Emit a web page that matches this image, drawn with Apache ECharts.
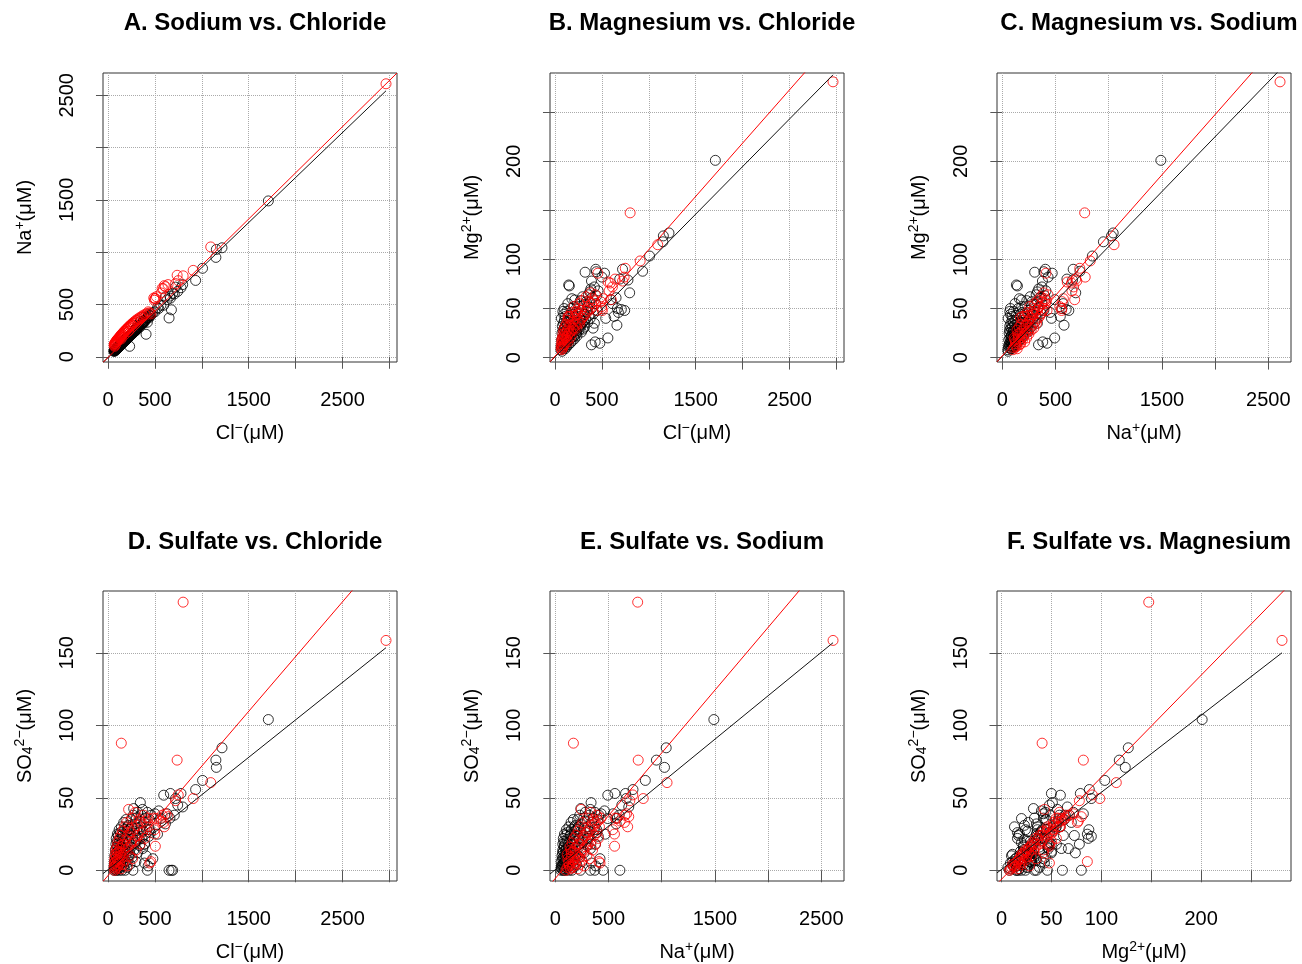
<!DOCTYPE html>
<html><head><meta charset="utf-8">
<script src="https://cdn.jsdelivr.net/npm/echarts@6/dist/echarts.min.js"></script>
<style>html,body{margin:0;padding:0;background:#fff}#c{width:1302px;height:964px}</style>
</head><body><div id="c"></div>
<script>
// Each sample: [Cl, Na, Mg, SO4] in µM
const blackSamples = [
[1709,1490,201,104],[1215,1042,127,84.5],[1150,950,118,76],[1155,1026,124,71],[1008,846,103.5,62],
[934,730,88,55.7],[778,660,79,53],[796,690,66,43.7],[720,666,90,49.5],[665,560,50,53],
[743,625,48,45],[707,600,49,38],[630,545,42,39],[594,493,59,51.8],[612,572,55,32],
[541,462,40,41],[660,580,33,36],[564,492,20,35.7],[651,371,61,0],[676,449,46,0],
[690,607,80,0],[528,469,86,24.9],[435,404,90,23.4],[442,390,87.5,28],[321,304,87,22],
[153,142,73,24],[500,430,82,39],[371,330,67,15],[389,377,78,18],[146,132,74,12],
[211,180,58.7,30],[478,420,14.6,8],[389,340,13,5],[428,380,16,3],[420,330,35,0],
[406,215,30,10],[231,100,25,12],[345,336,51,46.7],[274,240,32,42.6],
[63,52,8,0],[65,58,12,3],[68,55,40,6],[70,60,18,1],[72,62,10,10],[74,64,25,4],[75,55,6.4,2],
[78,70,32,14],[80,66,14,8],[82,72,20,0],[84,70,47,18],[85,78,9,5],[86,68,28,12],[88,75,16,22],
[90,80,35,7],[91,72,12,3],[93,83,22,16],[94,77,44,9],[95,85,15,0],[96,80,26,20],[98,88,11,11],
[99,82,30,5],[100,86,18,25],[100,92,38,2],[97,76,50,13],
[103,90,14,6],[105,84,22,17],[107,95,31,10],[108,88,9,1],[110,99,17,24],[112,92,42,8],[114,98,26,14],
[115,102,12,3],[117,96,20,19],[119,104,36,28],[120,100,15,0],[122,108,28,11],[124,101,11,6],
[125,112,23,21],[127,105,47,15],[129,110,19,4],[131,116,33,9],[133,112,16,26],[135,118,25,2],
[137,120,55,18],[139,114,21,12],[141,124,30,7],[143,128,13,30],[146,125,38,16],[148,130,24,0],
[152,132,18,10],[155,136,29,20],[157,128,43,5],[160,140,22,14],[163,145,35,25],[165,138,15,3],
[168,148,27,33],[170,150,50,12],[173,146,20,8],[175,155,32,18],[178,150,24,28],[180,160,60,15],
[183,156,17,0],[186,165,36,22],[189,158,28,6],[192,170,44,35],[195,166,21,11],[198,176,31,19],
[201,170,26,2],[204,182,52,27],[207,176,19,13],[210,186,38,24],[213,180,29,7],[216,190,23,31],
[219,186,46,16],
[222,195,34,20],[226,192,27,10],[230,204,41,28],[234,200,22,4],[242,212,36,24],[246,210,45,35],
[250,220,30,16],[254,216,52,30],[258,228,28,9],[262,222,40,22],[266,236,33,0],[270,230,58,38],
[278,244,38,14],[282,240,26,27],[286,254,48,19],[290,246,35,32],[294,262,62,24],[298,252,29,6],
[302,268,42,36],[306,260,37,21],[310,276,54,29],[314,270,31,12],[318,282,44,40],
[325,288,39,26],[332,280,57,34],[338,300,47,17],[350,306,36,30],[356,318,64,38],[362,310,43,22],
[368,328,56,42],[375,320,40,27],[382,342,70,33],[390,334,50,18],[398,356,61,36],[412,366,45,28],
[420,372,72,40],[436,372,55,30],[444,398,63,35],[452,390,48,26],[460,410,68,38]
];
const redSamples = [
[2963,2610,281,158.6],[801,774,147.5,185],[142,170,40.7,87.7],[737,779,82,76],[1095,1050,115,60.5],
[908,826,98.5,49.5],[749,728,91,52],[720,700,78,48],[457,410,86,6],[445,420,48,5],
[505,557,48,16.6],[220,242,43,42],[612,670,72,39],[577,654,68,38],[516,574,60,35.7],
[488,562,57,36],[640,690,80,37],[567,610,77,34],[600,680,59,30],[500,556,50,25],
[590,650,76,33],[246,300,50,20],[496,540,52,28],[139,190,42,12],
[65,110,10,2],[68,125,14,5],[70,100,8,0],[72,118,18,8],[75,130,12,3],[78,112,20,11],[80,140,9,1],
[82,125,16,6],[85,145,24,14],[88,130,11,4],[90,150,19,9],[93,138,28,16],[95,160,13,2],[98,150,22,12],
[100,165,17,7],[104,158,31,19],[108,172,14,3],[112,166,25,13],[116,182,20,8],[120,176,34,22],
[124,190,18,5],[128,185,27,15],[132,200,22,10],[136,194,38,24],[140,210,16,1],[145,205,30,17],
[150,218,25,9],[155,214,42,27],[160,228,20,4],[165,224,33,18],[170,240,27,12],[176,236,46,30],
[182,250,24,7],[188,246,36,21],[194,262,30,14],[200,258,52,33],[206,272,28,3],[212,268,40,24],
[218,284,34,16],[225,280,47,29],[232,296,30,10],[240,292,44,26],[248,310,37,18],[256,304,55,36],
[264,322,35,8],[272,318,48,28],[280,336,40,20],[290,332,58,40],[300,350,42,14],[310,346,52,31],
[320,364,45,24],[332,360,62,35],[344,378,48,18],[356,374,57,33],[368,392,50,26],[380,388,66,38],
[392,404,55,22],[404,400,60,34],[417,415,58,30],[430,430,64,36]
];
const varIndex = {cl:0, na:1, mg:2, so4:3};
const axisLimits = {cl:[-53,3080], na:[-50,2713], mg:[-4.5,290], so4:[-7.4,192.7]};
const tickValues = {cl:[0,500,1000,1500,2000,2500,3000], na:[0,500,1000,1500,2000,2500], mg:[0,50,100,150,200,250], so4:[0,50,100,150]};
const labelValues = {cl:[0,500,1500,2500], na:[0,500,1500,2500], mg:[0,50,100,200], so4:[0,50,100,150]};
const axisNames = {
  cl:'{n|Cl}{sup|−}{n|(μM)}',
  na:'{n|Na}{sup|+}{n|(μM)}',
  mg:'{n|Mg}{sup|2+}{n|(μM)}',
  so4:'{n|SO}{sub|4}{sup|2−}{n|(μM)}'
};
const panelTitles = ['A. Sodium vs. Chloride','B. Magnesium vs. Chloride','C. Magnesium vs. Sodium',
                     'D. Sulfate vs. Chloride','E. Sulfate vs. Sodium','F. Sulfate vs. Magnesium'];
const panelX = ['cl','cl','na','cl','na','mg'];
const panelY = ['na','mg','mg','so4','so4','so4'];
const blackSlope = [0.861, 0.097, 0.1119, 0.0517, 0.060, 0.532];
const blackIntercept = [-8, 0.7, 1.3, 0.4, 0.44, 0.57];
const redSlope = [0.883, 0.1086, 0.1229, 0.0756, 0.0866, 0.704];
const redIntercept = [-6.8, 1.4, 1.87, -3.7, -5.6, -6.2];

const FONT = '"Liberation Sans", Arial, Helvetica, sans-serif';
const gridLeft = [103, 550, 997], gridTop = [73, 591], gridW = 294, gridH = [289, 290];
const rich = {
  n:{fontSize:20, lineHeight:22, verticalAlign:'bottom', fontFamily:FONT, color:'#000'},
  sup:{fontSize:14, lineHeight:14, verticalAlign:'top', fontFamily:FONT, color:'#000'},
  sub:{fontSize:14, lineHeight:13, verticalAlign:'bottom', fontFamily:FONT, color:'#000'}
};
const grids=[], xAxes=[], yAxes=[], series=[], titles=[];
for (let i=0;i<6;i++){
  const col=i%3, row=Math.floor(i/3);
  grids.push({left:gridLeft[col], top:gridTop[row], width:gridW, height:gridH[row], containLabel:false,
    show:true, borderColor:'#333', borderWidth:1, backgroundColor:'transparent'});
  titles.push({text:panelTitles[i], left:gridLeft[col]+gridW/2, top:row===0?6:525, textAlign:'center',
    textStyle:{fontFamily:FONT, fontWeight:'bold', fontSize:24, color:'#000'}});
  const xk=panelX[i], yk=panelY[i];
  const common = (k, isY) => ({
    type:'value', gridIndex:i, min:axisLimits[k][0], max:axisLimits[k][1],
    axisLine:{show:false},
    axisTick:{show:true, inside:false, length:12, customValues:tickValues[k], lineStyle:{color:'#555', width:1}},
    axisLabel:{customValues:labelValues[k], formatter:v=>String(v), fontFamily:FONT, fontSize:20, color:'#000',
      margin:isY?26:28, rotate:isY?90:0},
    splitLine:{show:true, lineStyle:{type:'dotted', color:'#aaa', width:1}},
    name:axisNames[k], nameLocation:'middle', nameGap:isY?68:59, nameRotate:isY?90:0,
    nameTextStyle:{rich:rich}
  });
  xAxes.push(common(xk,false));
  yAxes.push(common(yk,true));
  const xi=varIndex[xk], yi=varIndex[yk];
  const bPts = blackSamples.map(s=>[s[xi], s[yi]]);
  const rPts = redSamples.map(s=>[s[xi], s[yi]]);
  series.push({type:'scatter', xAxisIndex:i, yAxisIndex:i, data:bPts, symbol:'circle', symbolSize:10,
    itemStyle:{color:'transparent', borderColor:'#000', borderWidth:1}, z:2});
  series.push({type:'scatter', xAxisIndex:i, yAxisIndex:i, data:rPts, symbol:'circle', symbolSize:10,
    itemStyle:{color:'transparent', borderColor:'#ff0000', borderWidth:1}, z:3});
  const x0 = axisLimits[xk][0], x1 = axisLimits[xk][1];
  const xMaxData = Math.max(...bPts.map(p=>p[0]), ...rPts.map(p=>p[0]));
  series.push({type:'line', xAxisIndex:i, yAxisIndex:i, showSymbol:false, clip:true, z:4,
    data:[[x0, blackSlope[i]*x0+blackIntercept[i]],[xMaxData, blackSlope[i]*xMaxData+blackIntercept[i]]],
    lineStyle:{color:'#111', width:1}});
  series.push({type:'line', xAxisIndex:i, yAxisIndex:i, showSymbol:false, clip:true, z:5,
    data:[[x0, redSlope[i]*x0+redIntercept[i]],[x1, redSlope[i]*x1+redIntercept[i]]],
    lineStyle:{color:'#ff0000', width:1}});
}
const chart = echarts.init(document.getElementById('c'), null, {renderer:'canvas'});
chart.setOption({animation:false, backgroundColor:'#fff', title:titles, grid:grids, xAxis:xAxes, yAxis:yAxes, series:series});
</script></body></html>
